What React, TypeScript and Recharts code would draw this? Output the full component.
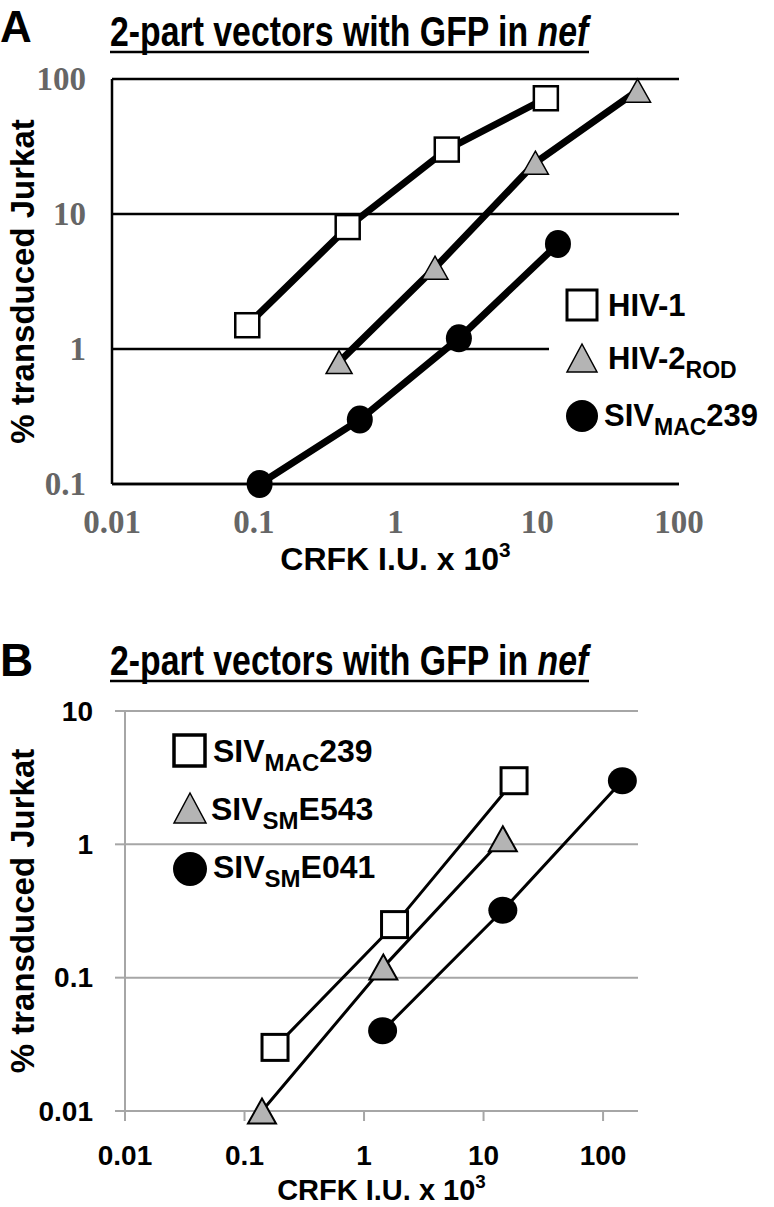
import React from 'react';
import { LineChart, Line, XAxis, YAxis, CartesianGrid, Label } from 'recharts';

// panel A: 2-part vectors, CRFK I.U. x 10^3 vs % transduced Jurkat
const hiv1 = [
  { x: 0.09, y: 1.5 },
  { x: 0.46, y: 8 },
  { x: 2.3, y: 30 },
  { x: 11.5, y: 72 },
];
const hiv2rod = [
  { x: 0.4, y: 0.8 },
  { x: 1.9, y: 4 },
  { x: 9.7, y: 24 },
  { x: 51, y: 82 },
];
const sivmac239A = [
  { x: 0.11, y: 0.1 },
  { x: 0.56, y: 0.3 },
  { x: 2.8, y: 1.2 },
  { x: 14, y: 6 },
];
const ticksAX = [0.01, 0.1, 1, 10, 100];
const ticksAY = [0.1, 1, 10, 100];

// panel B
const sivmac239B = [
  { x: 0.18, y: 0.03 },
  { x: 1.8, y: 0.25 },
  { x: 18, y: 3 },
];
const sivsmE543 = [
  { x: 0.14, y: 0.01 },
  { x: 1.45, y: 0.12 },
  { x: 14.5, y: 1.1 },
];
const sivsmE041 = [
  { x: 1.43, y: 0.04 },
  { x: 14.5, y: 0.32 },
  { x: 145, y: 3 },
];
const ticksBX = [0.01, 0.1, 1, 10, 100];
const ticksBY = [0.01, 0.1, 1, 10];

const SANS = '"Liberation Sans", Arial, sans-serif';
const SERIF = '"Liberation Serif", "Times New Roman", serif';
const GRAY_TRI = '#b4b4b4';
const GRID_B = '#a6a6a6';

function squareDot(size: number, sw: number) {
  return (p: any) => {
    const { cx, cy, index } = p;
    if (cx == null || cy == null) return <g key={index} />;
    return (
      <rect key={index} x={cx - size / 2} y={cy - size / 2} width={size} height={size}
        fill="#fff" stroke="#000" strokeWidth={sw} />
    );
  };
}

function triangleDot(w: number, h: number, sw: number) {
  return (p: any) => {
    const { cx, cy, index } = p;
    if (cx == null || cy == null) return <g key={index} />;
    const pts = `${cx},${cy - h / 2} ${cx + w / 2},${cy + h / 2} ${cx - w / 2},${cy + h / 2}`;
    return <polygon key={index} points={pts} fill={GRAY_TRI} stroke="#000" strokeWidth={sw} />;
  };
}

function circleDot(rx: number, ry: number) {
  return (p: any) => {
    const { cx, cy, index } = p;
    if (cx == null || cy == null) return <g key={index} />;
    return <ellipse key={index} cx={cx} cy={cy} rx={rx} ry={ry} fill="#000" />;
  };
}

const yTitle = (x: number, size: number) => (p: any) => {
  const vb = p.viewBox || {};
  const cy = vb.y + vb.height / 2;
  return (
    <text x={x} y={cy} transform={`rotate(-90, ${x}, ${cy})`} textAnchor="middle" dominantBaseline="central"
      fontFamily={SANS} fontWeight="bold" fontSize={size} fill="#000">
      % transduced Jurkat
    </text>
  );
};

const xTitle = (dy: number, size: number) => (p: any) => {
  const vb = p.viewBox || {};
  const cx = vb.x + vb.width / 2;
  return (
    <text x={cx} y={vb.y + dy} textAnchor="middle" fontFamily={SANS} fontWeight="bold" fontSize={size} fill="#000">
      CRFK I.U. x 10<tspan fontSize={size * 0.65} dy={-size * 0.4}>3</tspan>
    </text>
  );
};

function ChartA() {
  return (
    <LineChart width={774} height={600} margin={{ top: 79, right: 95, bottom: 0, left: 0 }}>
      <CartesianGrid vertical={false} stroke="#000" strokeWidth={2.5} />
      <XAxis dataKey="x" type="number" scale="log" domain={[0.01, 100]} ticks={ticksAX}
        height={116} axisLine={{ stroke: '#000', strokeWidth: 2.5 }} tickLine={false} tickSize={0} tickMargin={0}
        tick={(p: any) => (
          <text x={p.x} y={p.y + 38} textAnchor="middle" dominantBaseline="central" fontFamily={SERIF}
            fontWeight="bold" fontSize={33} fill="#666">{p.payload.value}</text>
        )}>
        <Label content={xTitle(86, 32)} />
      </XAxis>
      <YAxis dataKey="y" type="number" scale="log" domain={[0.1, 100]} ticks={ticksAY}
        width={112} axisLine={{ stroke: '#000', strokeWidth: 2.5 }} tickLine={false} tickSize={0} tickMargin={0}
        tick={(p: any) => (
          <text x={p.x - 26} y={p.y} textAnchor="end" dominantBaseline="central" fontFamily={SERIF}
            fontWeight="bold" fontSize={33} fill="#666">{p.payload.value}</text>
        )}>
        <Label content={yTitle(22, 33)} />
      </YAxis>
      <Line data={hiv1} dataKey="y" type="linear" stroke="#000" strokeWidth={7} dot={squareDot(24, 2.5)}
        activeDot={false} isAnimationActive={false} />
      <Line data={hiv2rod} dataKey="y" type="linear" stroke="#000" strokeWidth={7} dot={triangleDot(26, 23, 1.5)}
        activeDot={false} isAnimationActive={false} />
      <Line data={sivmac239A} dataKey="y" type="linear" stroke="#000" strokeWidth={7} dot={circleDot(13, 14)}
        activeDot={false} isAnimationActive={false} />
    </LineChart>
  );
}

function ChartB() {
  return (
    <LineChart width={774} height={607} margin={{ top: 111, right: 136, bottom: 0, left: 0 }}>
      <CartesianGrid vertical={false} stroke={GRID_B} strokeWidth={2} />
      <XAxis dataKey="x" type="number" scale="log" domain={[0.01, 196]} ticks={ticksBX}
        height={96} axisLine={{ stroke: GRID_B, strokeWidth: 2 }} tickLine={{ stroke: GRID_B, strokeWidth: 2 }}
        tickSize={10} tickMargin={0}
        tick={(p: any) => (
          <text x={p.x} y={p.y + 34} textAnchor="middle" dominantBaseline="central" fontFamily={SANS}
            fontWeight="bold" fontSize={28} fill="#000">{p.payload.value}</text>
        )}>
        <Label content={xTitle(89, 29)} />
      </XAxis>
      <YAxis dataKey="y" type="number" scale="log" domain={[0.01, 10]} ticks={ticksBY}
        width={125} axisLine={{ stroke: GRID_B, strokeWidth: 2 }} tickLine={{ stroke: GRID_B, strokeWidth: 2 }}
        tickSize={10} tickMargin={0}
        tick={(p: any) => (
          <text x={p.x - 22} y={p.y} textAnchor="end" dominantBaseline="central" fontFamily={SANS}
            fontWeight="bold" fontSize={28} fill="#000">{p.payload.value}</text>
        )}>
        <Label content={yTitle(22, 33)} />
      </YAxis>
      <Line data={sivmac239B} dataKey="y" type="linear" stroke="#000" strokeWidth={3} dot={squareDot(26, 3)}
        activeDot={false} isAnimationActive={false} />
      <Line data={sivsmE543} dataKey="y" type="linear" stroke="#000" strokeWidth={3} dot={triangleDot(28, 25, 2)}
        activeDot={false} isAnimationActive={false} />
      <Line data={sivsmE041} dataKey="y" type="linear" stroke="#000" strokeWidth={3} dot={circleDot(14.5, 13.5)}
        activeDot={false} isAnimationActive={false} />
    </LineChart>
  );
}

// legend / titles drawn on top
function Overlay() {
  const t = { fontFamily: SANS, fontWeight: 'bold' as const, fill: '#000' };
  return (
    <svg width={774} height={1207} style={{ position: 'absolute', left: 0, top: 0, pointerEvents: 'none' }}>
      <text x={0} y={42} fontSize={44} {...t}>A</text>
      <g transform="translate(110,46) scale(0.805,1)">
        <text x={0} y={0} fontSize={42} {...t}>
          2-part vectors with GFP in <tspan fontStyle="italic">nef</tspan>
        </text>
      </g>
      <line x1={110} x2={589} y1={52} y2={52} stroke="#000" strokeWidth={2.5} />

      {/* legend A (white box hides the gridline) */}
      <rect x={549} y={272} width={225} height={170} fill="#fff" />
      <rect x={567} y={290} width={30} height={30} fill="#fff" stroke="#000" strokeWidth={3} />
      <text x={608} y={316} fontSize={31} {...t}>HIV-1</text>
      <polygon points="582,344 597,372 567,372" fill={GRAY_TRI} stroke="#000" strokeWidth={1.5} />
      <text x={608} y={369} fontSize={31} {...t}>HIV-2<tspan fontSize={23} dy={9}>ROD</tspan></text>
      <ellipse cx={582} cy={416} rx={16} ry={16} fill="#000" />
      <text x={604} y={426} fontSize={31} {...t}>
        SIV<tspan fontSize={23} dy={9}>MAC</tspan><tspan dy={-9}>239</tspan>
      </text>

      <text x={0} y={676} fontSize={46} {...t}>B</text>
      <g transform="translate(110,675) scale(0.805,1)">
        <text x={0} y={0} fontSize={42} {...t}>
          2-part vectors with GFP in <tspan fontStyle="italic">nef</tspan>
        </text>
      </g>
      <line x1={110} x2={589} y1={681} y2={681} stroke="#000" strokeWidth={2.5} />

      {/* legend B */}
      <rect x={174} y={735} width={31} height={31} fill="#fff" stroke="#000" strokeWidth={3.5} />
      <text x={213} y={762} fontSize={32} {...t}>
        SIV<tspan fontSize={24} dy={9}>MAC</tspan><tspan dy={-9}>239</tspan>
      </text>
      <polygon points="190,793 206,823 174,823" fill={GRAY_TRI} stroke="#000" strokeWidth={1.5} />
      <text x={211} y={820} fontSize={32} {...t}>
        SIV<tspan fontSize={24} dy={9}>SM</tspan><tspan dy={-9}>E543</tspan>
      </text>
      <ellipse cx={190} cy={869} rx={17} ry={17} fill="#000" />
      <text x={213} y={878} fontSize={32} {...t}>
        SIV<tspan fontSize={24} dy={9}>SM</tspan><tspan dy={-9}>E041</tspan>
      </text>
    </svg>
  );
}

export default function App() {
  return (
    <div style={{ position: 'absolute', left: 0, top: 0, width: 774, height: 1207, background: '#fff' }}>
      <div style={{ position: 'absolute', left: 0, top: 0 }}>
        <ChartA />
      </div>
      <div style={{ position: 'absolute', left: 0, top: 600 }}>
        <ChartB />
      </div>
      <Overlay />
    </div>
  );
}
